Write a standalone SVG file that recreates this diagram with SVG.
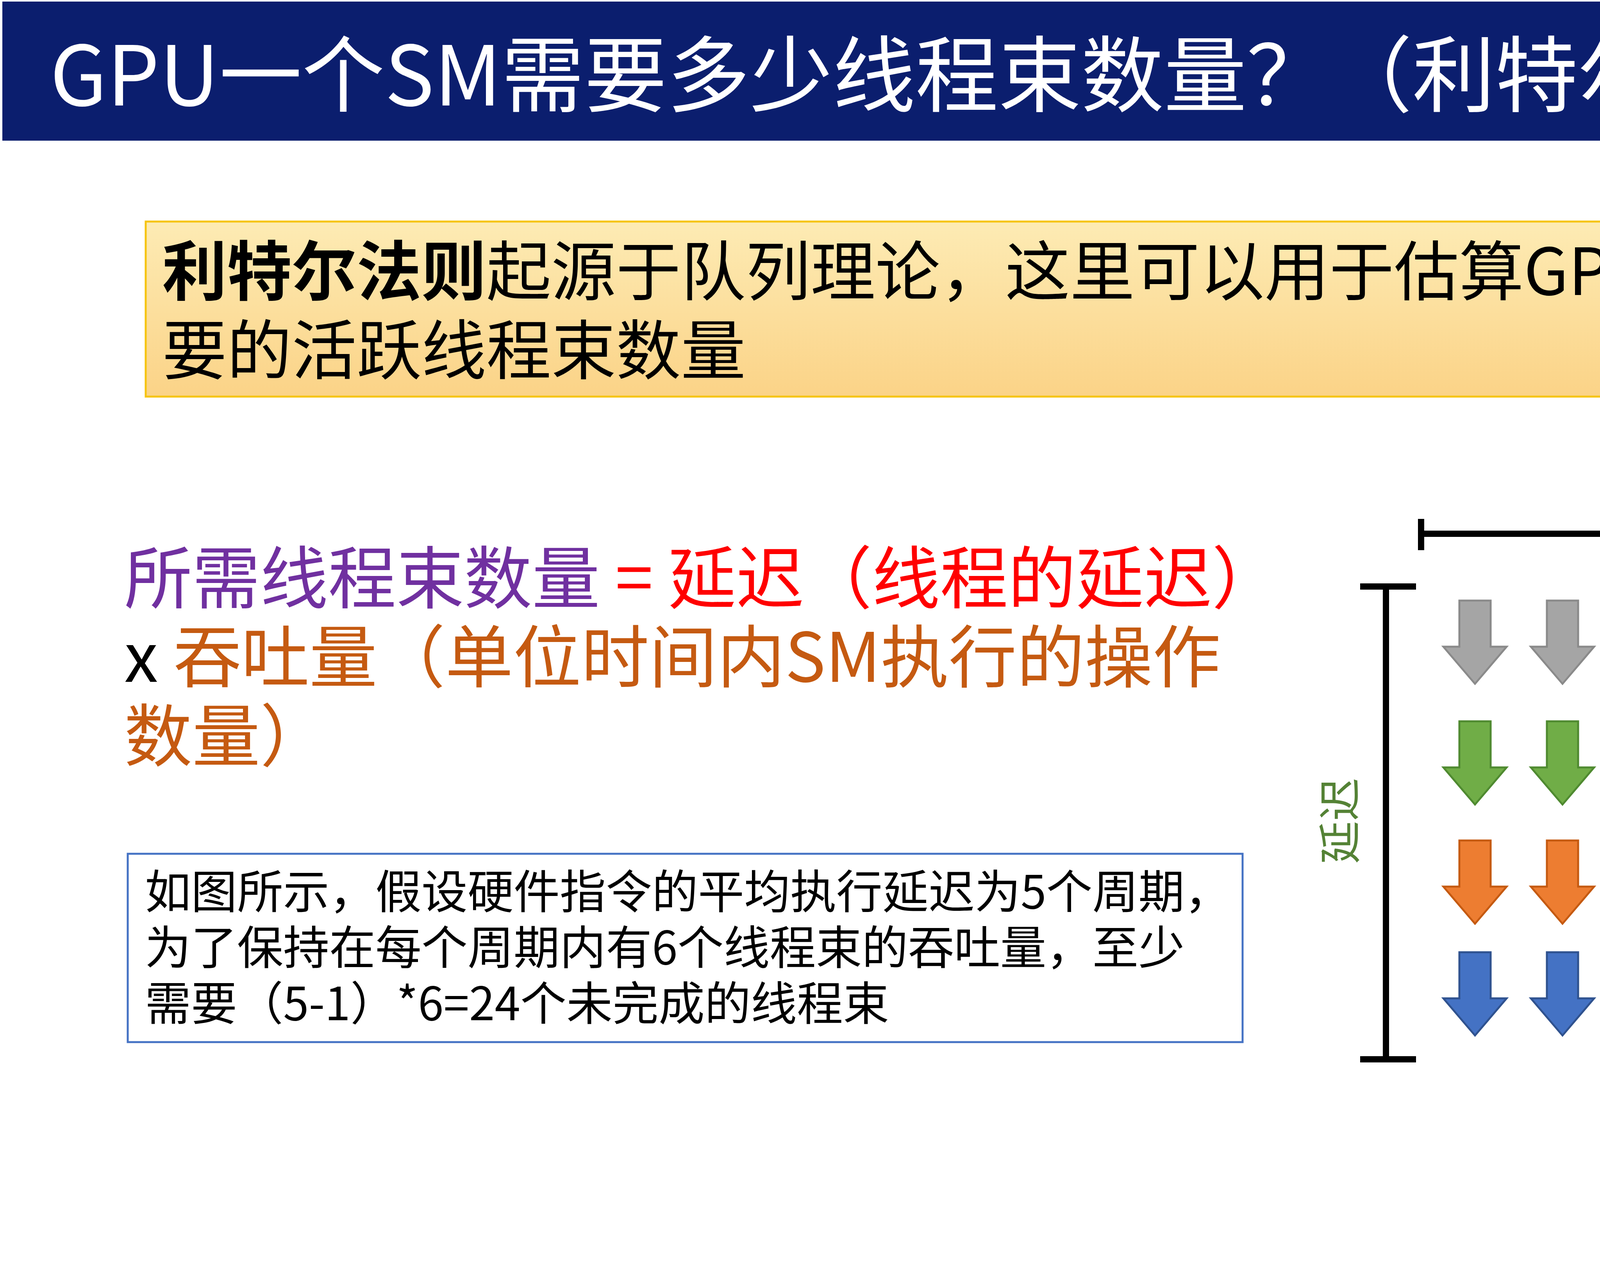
<svg xmlns="http://www.w3.org/2000/svg" xmlns:xlink="http://www.w3.org/1999/xlink" width="5760" height="3240" viewBox="0 0 5760 3240">
<defs>
<style>
text{font-family:"Noto Sans CJK SC","Noto Sans",sans-serif}
.lbl{font-size:82px;text-anchor:middle}
</style>
<linearGradient id="yg" x1="0" y1="0" x2="0" y2="1"><stop offset="0" stop-color="#fdebb4"/><stop offset="1" stop-color="#fbd387"/></linearGradient>
<path id="ar" d="M-40,0 H40 V118 H81 L0,213 L-81,118 H-40 Z" stroke-width="5"/>
</defs>
<rect width="5760" height="3240" fill="#fff"/>
<g id="title"><rect x="6" y="4" width="5748" height="356" fill="#0b1e6e"/>
<text x="128" y="270" font-size="212" fill="#fff">GPU一个SM需要多少线程束数量？（利特尔法则）</text></g>
<g id="intro"><rect x="373" y="567" width="5116" height="448" fill="url(#yg)" stroke="#f6c410" stroke-width="5"/>
<text x="415" y="755" font-size="166"><tspan font-weight="bold">利特尔法则</tspan>起源于队列理论，这里可以用于估算GPU隐藏延迟所需</text>
<text x="415" y="957" font-size="166">要的活跃线程束数量</text></g>
<g id="formula" font-size="174">
<text x="318" y="1543"><tspan fill="#7030a0">所需线程束数量</tspan><tspan fill="#ff0000"> = 延迟（线程的延迟）</tspan></text>
<text x="318" y="1745"><tspan fill="#000">x </tspan><tspan fill="#c55a11">吞吐量（单位时间内SM执行的操作</tspan></text>
<text x="318" y="1947" fill="#c55a11">数量）</text></g>
<g id="note"><rect x="327" y="2185" width="2854" height="482" fill="#fff" stroke="#4472c4" stroke-width="5"/>
<g font-size="118"><text x="371" y="2325">如图所示，假设硬件指令的平均执行延迟为5个周期，</text>
<text x="371" y="2468">为了保持在每个周期内有6个线程束的吞吐量，至少</text>
<text x="371" y="2611">需要（5-1）*6=24个未完成的线程束</text></g></g>
<g id="connectors" stroke="#000" stroke-width="16" fill="none">
<path d="M3638,1366 H5037 M3638,1328 V1408 M5037,1328 V1408"/>
<path d="M3548,1501 V2711 M3482,1501 H3625 M3482,2711 H3625"/>
</g>
<text x="4334" y="1304" font-size="110" fill="#548235" text-anchor="middle">吞吐量</text>
<text transform="translate(3470,2101) rotate(-90)" font-size="110" fill="#548235" text-anchor="middle">延迟</text>
<g id="arrows">
<g fill="#a5a5a5" stroke="#8a8a8a"><use href="#ar" x="3776" y="1537"/><use href="#ar" x="4000" y="1537"/><use href="#ar" x="4224" y="1537"/><use href="#ar" x="4452" y="1537"/><use href="#ar" x="4676" y="1537"/><use href="#ar" x="4900" y="1537"/></g>
<g fill="#70ad47" stroke="#4f8a30"><use href="#ar" x="3776" y="1846"/><use href="#ar" x="4000" y="1846"/><use href="#ar" x="4224" y="1846"/><use href="#ar" x="4452" y="1846"/><use href="#ar" x="4676" y="1846"/><use href="#ar" x="4900" y="1846"/></g>
<g fill="#ed7d31" stroke="#c55a11"><use href="#ar" x="3776" y="2151"/><use href="#ar" x="4000" y="2151"/><use href="#ar" x="4224" y="2151"/><use href="#ar" x="4452" y="2151"/><use href="#ar" x="4676" y="2151"/><use href="#ar" x="4900" y="2151"/></g>
<g fill="#4472c4" stroke="#2f528f"><use href="#ar" x="3776" y="2437"/><use href="#ar" x="4000" y="2437"/><use href="#ar" x="4224" y="2437"/><use href="#ar" x="4452" y="2437"/><use href="#ar" x="4676" y="2437"/><use href="#ar" x="4900" y="2437"/></g>
</g>
<g id="c5"><rect x="5129" y="1563" width="458" height="145" fill="#d0d0d0" stroke="#bfbfbf" stroke-width="4"/><text class="lbl" x="5358" y="1665">第5周期</text></g>
<g id="c4"><rect x="5122" y="1879" width="458" height="145" fill="#a9d18e" stroke="#8cbf6a" stroke-width="4"/><text class="lbl" x="5351" y="1981">第4周期</text></g>
<g id="c3"><rect x="5122" y="2190" width="458" height="145" fill="#f4b183" stroke="#ee9c66" stroke-width="4"/><text class="lbl" x="5351" y="2292">第3周期</text></g>
<g id="c2"><rect x="5129" y="2462" width="458" height="145" fill="#8faadc" stroke="#6f8fca" stroke-width="4"/><text class="lbl" x="5358" y="2564">第2周期</text></g>
<text x="5282" y="3118" font-size="70" fill="#999" text-anchor="middle">22</text>
</svg>
